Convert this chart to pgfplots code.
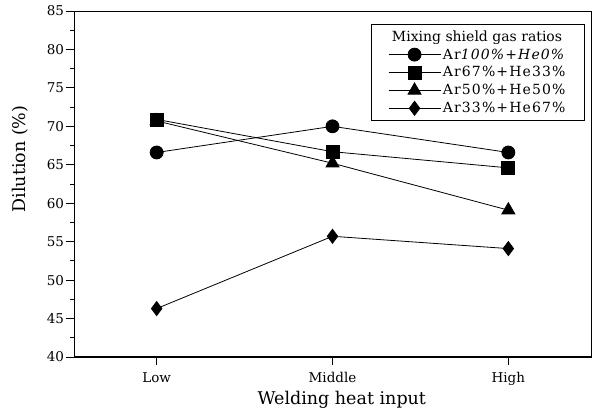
\documentclass[border=0pt]{standalone}
\usepackage{fontspec}
\setmainfont{DejaVu Serif}
\usepackage{pgfplots}
\pgfplotsset{compat=1.18}
\begin{document}
\begin{tikzpicture}
\path[use as bounding box] (-74pt,-58pt) rectangle (519pt,357pt);
\begin{axis}[
  at={(0,0)}, anchor=south west,
  scale only axis, width=517pt, height=346pt,
  xmin=-0.47, xmax=2.47, ymin=40, ymax=85,
  xtick={0,1,2}, xticklabels={Low,Middle,High},
  ytick={40,45,...,85}, minor y tick num=1,
  tick align=outside, tick pos=left,
  major tick length=8pt, minor tick length=4pt,
  every tick/.style={line width=0.9pt, black},
  /pgf/number format/assume math mode=true,
  tick label style={font=\fontsize{13.5}{15}\selectfont},
  xticklabel style={yshift=-4pt},
  yticklabel style={xshift=1.5pt},
  xlabel={Welding heat input}, ylabel={Dilution (\%)},
  label style={font=\fontsize{17.5}{19}\selectfont},
  xlabel style={at={(axis description cs:0.518,-0.1243)}, anchor=center},
  ylabel style={at={(axis description cs:-0.1034,0.572)}, anchor=center},
  axis line style={line width=0.9pt},
  legend style={at={(0.988,0.962)}, anchor=north east, draw=black, line width=0.8pt,
    font=\fontsize{14}{15}\selectfont\addfontfeatures{LetterSpace=8}, row sep=2pt, inner xsep=17pt, inner ysep=4pt},
  legend cell align=left,
  legend image code/.code={\draw[mark repeat=2,mark phase=2,#1] plot coordinates {(0pt,0pt) (26pt,0pt) (52pt,0pt)};},
  every axis plot/.append style={black, line width=0.8pt},
]
\addlegendimage{empty legend}
\addlegendentry{\hspace{-51pt}\addfontfeatures{LetterSpace=0}Mixing shield gas ratios\hspace{10pt}}
\addplot[mark=*, mark size=6.5pt] coordinates {(0,66.6) (1,70.0) (2,66.6)};
\addlegendentry{Ar\textit{100\%+He0\%}}
\addplot[mark=square*, mark size=6.5pt] coordinates {(0,70.9) (1,66.7) (2,64.6)};
\addlegendentry{Ar67\%+He33\%}
\addplot[mark=triangle*, mark size=7.5pt] coordinates {(0,70.7) (1,65.2) (2,59.1)};
\addlegendentry{Ar50\%+He50\%}
\addplot[mark=diamond*, mark size=7pt] coordinates {(0,46.3) (1,55.7) (2,54.1)};
\addlegendentry{Ar33\%+He67\%}
\draw[line width=1.8pt] (rel axis cs:0,1) -- (rel axis cs:0,0) -- (rel axis cs:1,0);
\end{axis}
\end{tikzpicture}
\end{document}
